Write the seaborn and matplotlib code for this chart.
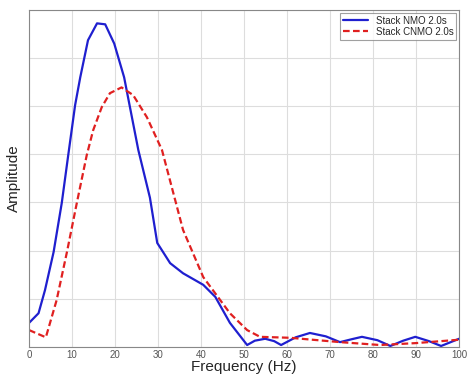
import matplotlib
matplotlib.use("Agg")
import matplotlib.pyplot as plt
import seaborn as sns
import pandas as pd

freq_nmo = [0, 2.2, 3.7, 5.7, 7.6, 9.1, 10.7, 11.9, 13.7, 15.8, 17.7, 19.8, 22.1, 25.4, 28.1, 29.8, 32.8,
            35.8, 40.5, 43.3, 46.7, 50.7, 52.5, 54.9, 57, 58.6, 62, 65.3, 69, 72.3, 75, 77.4, 81, 84,
            87, 89.8, 93, 95.8, 100]
amp_nmo = [0.5, 0.7, 1.18, 1.97, 2.99, 3.98, 5.02, 5.6, 6.37, 6.72, 6.7, 6.3, 5.6, 4.09, 3.1, 2.16, 1.74,
           1.53, 1.29, 1.04, 0.5, 0.04, 0.13, 0.17, 0.12, 0.04, 0.2, 0.29, 0.22, 0.1, 0.16, 0.21, 0.14, 0.02,
           0.13, 0.21, 0.12, 0.02, 0.17]

freq_cnmo = [0, 3.9, 6.4, 8.8, 11.1, 13.4, 14.9, 16.9, 18.8, 21.5, 24.2, 27.4, 30.9, 35.8, 40.5, 46.7,
             50.7, 53.7, 60.7, 72.3, 81.6, 90, 100]
amp_cnmo = [0.35, 0.2, 0.97, 1.97, 2.99, 3.98, 4.5, 4.98, 5.27, 5.39, 5.23, 4.77, 4.09, 2.43, 1.45, 0.7,
            0.35, 0.21, 0.19, 0.1, 0.04, 0.08, 0.15]

labels = ["Stack NMO 2.0s", "Stack CNMO 2.0s"]

df = pd.concat([
    pd.DataFrame({"Frequency": freq_nmo, "Amplitude": amp_nmo, "Series": labels[0]}),
    pd.DataFrame({"Frequency": freq_cnmo, "Amplitude": amp_cnmo, "Series": labels[1]}),
])

sns.set_style("white")
plt.rcParams['font.family'] = ['Liberation Sans', 'DejaVu Sans']

fig = plt.figure(figsize=(4.69, 3.8), dpi=100)
ax = fig.add_axes([0.062, 0.087, 0.917, 0.887])

sns.lineplot(data=df, x="Frequency", y="Amplitude", hue="Series", style="Series",
             palette={labels[0]: "#1f1fcf", labels[1]: "#e02020"},
             dashes={labels[0]: "", labels[1]: (3, 1.5)},
             linewidth=1.6, ax=ax, sort=False)

ax.set_xlim(0, 100)
ax.set_ylim(0, 7)
ax.set_xticks(range(0, 101, 10))
ax.set_yticks(range(0, 8))
ax.set_yticklabels([])
ax.grid(True, color="#dddddd", linewidth=0.8)
ax.tick_params(axis="x", labelsize=7, colors="#555555", length=3, direction="in", pad=2)
ax.tick_params(axis="y", length=3, direction="in")
for s in ax.spines.values():
    s.set_color("#888888")
    s.set_linewidth(0.8)
ax.set_xlabel("Frequency (Hz)", fontsize=11, labelpad=0)
ax.set_ylabel("Amplitude", fontsize=11, labelpad=2)

leg = ax.legend(loc="upper right", fontsize=7, frameon=True, fancybox=False,
                edgecolor="#888888", borderpad=0.3, handlelength=2.6, labelspacing=0.1,
                borderaxespad=0.3)
leg.get_frame().set_linewidth(0.8)

fig.savefig("out.png", dpi=100)
